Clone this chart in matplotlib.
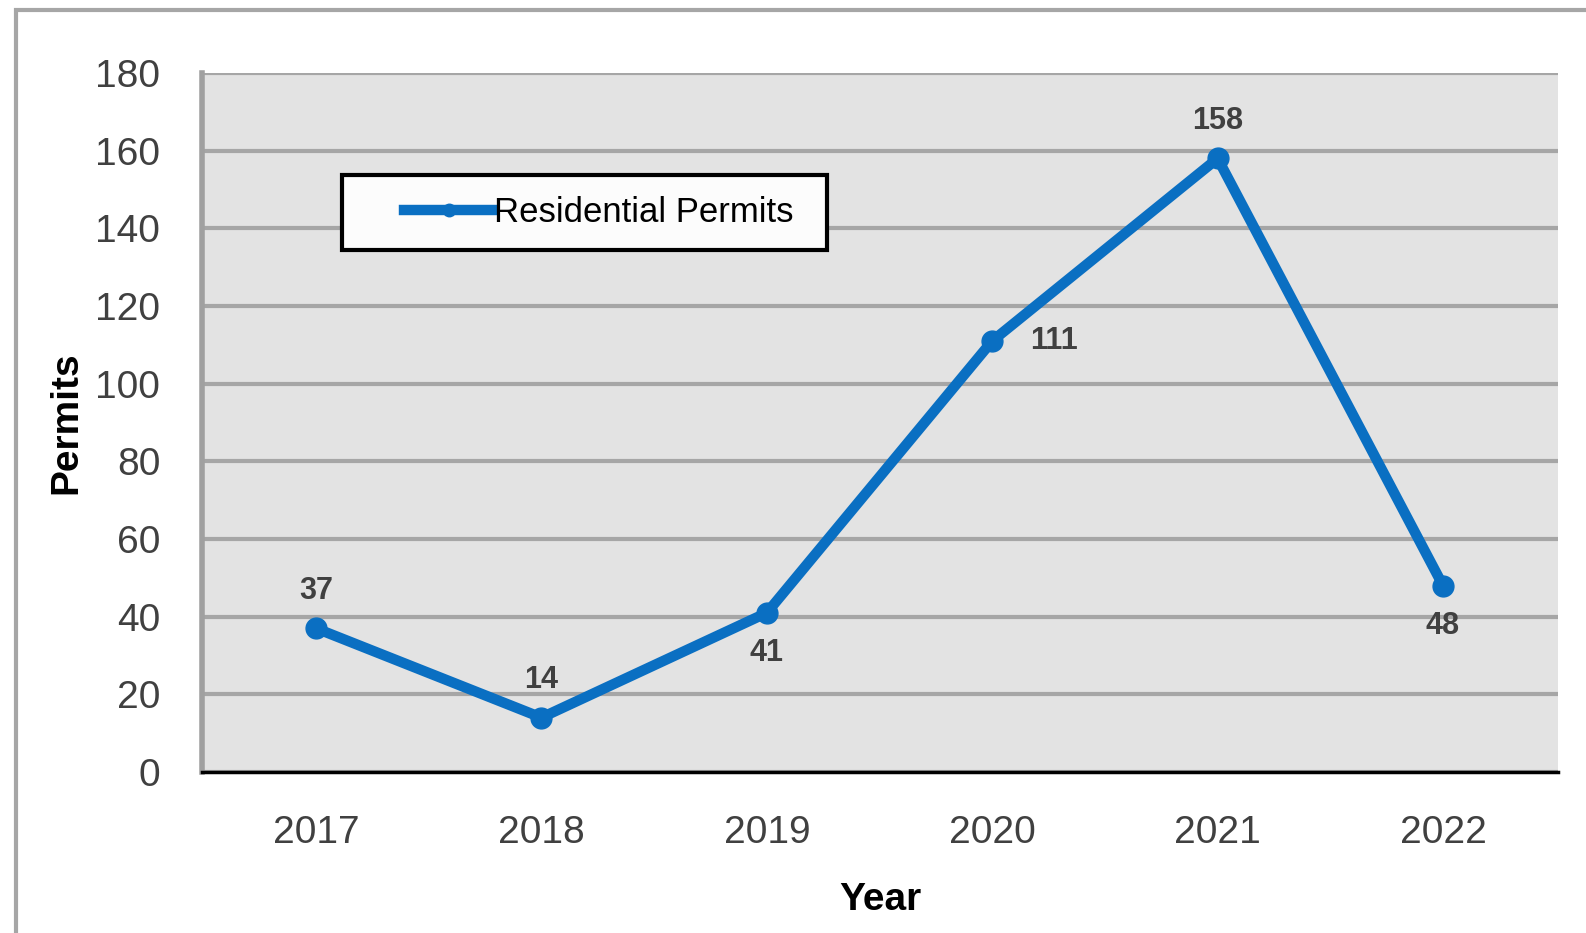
import matplotlib
matplotlib.use('Agg')
import matplotlib.pyplot as plt
from matplotlib.patches import Rectangle
from matplotlib.lines import Line2D
from matplotlib.legend_handler import HandlerLine2D

years = ['2017', '2018', '2019', '2020', '2021', '2022']
permits = [37, 14, 41, 111, 158, 48]
# where each value label sits relative to its point
label_pos = ['above', 'above', 'below', 'right', 'above', 'below']
yticks = [0, 20, 40, 60, 80, 100, 120, 140, 160, 180]

plt.rcParams['font.family'] = ['Liberation Sans', 'DejaVu Sans']

blue = '#0a6fc2'
txt = '#404040'

fig = plt.figure(figsize=(15.86, 9.33), dpi=100)
fig.patch.set_facecolor('white')
# outer chart border
fig.patches.append(Rectangle((16/1586, -0.05), 1.2, 1 - 10/933 + 0.05,
                             transform=fig.transFigure, fill=False,
                             edgecolor='#a6a6a6', linewidth=3))

ax = fig.add_axes([202/1586, 1 - 772/933, 1356/1586, 699/933])
ax.set_facecolor('#e3e3e3')

x = list(range(len(years)))
ax.plot(x, permits, color=blue, linewidth=7.5, marker='o', markersize=15,
        label='Residential Permits', zorder=3)

for xi, v, pos in zip(x, permits, label_pos):
    if pos == 'above':
        ax.annotate(str(v), (xi, v), xytext=(0, 16), textcoords='offset points',
                    ha='center', va='bottom', fontsize=22, fontweight='bold', color=txt)
    elif pos == 'below':
        ax.annotate(str(v), (xi, v), xytext=(0, -18), textcoords='offset points',
                    ha='center', va='top', fontsize=22, fontweight='bold', color=txt)
    else:
        ax.annotate(str(v), (xi, v), xytext=(27, 0), textcoords='offset points',
                    ha='left', va='center', fontsize=22, fontweight='bold', color=txt)

ax.set_xlim(-0.506, 5.51)
ax.set_ylim(0, 180)
ax.set_yticks(yticks)
ax.set_xticks(x)
ax.set_xticklabels(years)
ax.yaxis.grid(True, color='#a6a6a6', linewidth=3)
ax.set_axisbelow(True)
ax.tick_params(axis='both', length=0, labelsize=28, labelcolor=txt)
ax.tick_params(axis='y', pad=30)
ax.tick_params(axis='x', pad=31)

ax.spines['right'].set_visible(False)
ax.spines['top'].set_visible(False)
ax.spines['left'].set_color('#a0a0a0')
ax.spines['left'].set_linewidth(4)
ax.spines['bottom'].set_color('black')
ax.spines['bottom'].set_linewidth(2.5)

ax.set_xlabel('Year', fontsize=28, fontweight='bold', color='black', labelpad=22)
ax.set_ylabel('Permits', fontsize=28, fontweight='bold', color='black', labelpad=8)

leg = ax.legend(loc='upper left', bbox_to_anchor=(0.103, 0.854, 0.358, 0.0),
                mode='expand', borderaxespad=0,
                fontsize=25, frameon=True, fancybox=False, framealpha=1,
                handlelength=3.8, borderpad=0.6, handletextpad=0.0, markerscale=0.6,
                handler_map={Line2D: HandlerLine2D(xpad=1.2)})
leg.get_frame().set_edgecolor('black')
leg.get_frame().set_linewidth(3)
leg.get_frame().set_facecolor('#fcfcfc')

fig.savefig('out.png', dpi=100)
